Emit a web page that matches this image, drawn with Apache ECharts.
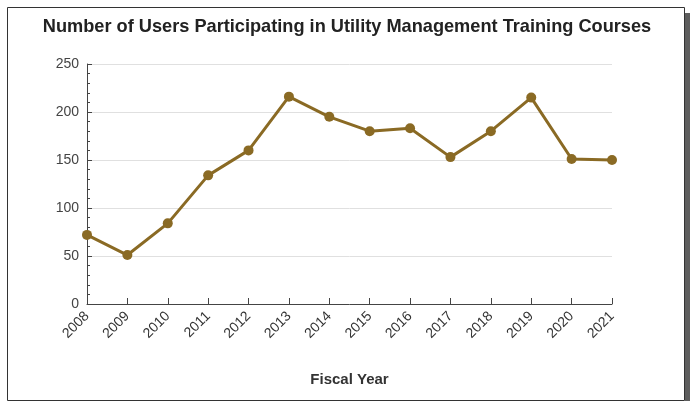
<!DOCTYPE html>
<html>
<head>
<meta charset="utf-8">
<script src="https://cdn.jsdelivr.net/npm/echarts@6/dist/echarts.min.js"></script>
<style>
	html, body { margin: 0; padding: 0; background: #fff; }
	#chart { width: 694px; height: 401px; }
</style>
</head>
<body>
<div id="chart"></div>
<script>
const years = ["2008", "2009", "2010", "2011", "2012", "2013", "2014", "2015", "2016", "2017", "2018", "2019", "2020", "2021"];
const users = [72, 51, 84, 134, 160, 216, 195, 180, 183, 153, 180, 215, 151, 150];

const LINE_COLOR = "#8a6a24";

const myChart = echarts.init(document.getElementById("chart"), null, { renderer: "canvas" });
const option = {
	animation: false,
	backgroundColor: "#fff",
	title: {
		text: "Number of Users Participating in Utility Management Training Courses",
		left: "center",
		top: 13,
		textStyle: { fontFamily: "Liberation Sans", fontSize: 18.2, fontWeight: "bold", color: "#222" },
	},
	grid: { left: 87, right: 82, top: 64, bottom: 97 },
	graphic: [
		// drop shadow on the right of the frame
		{ type: "rect", shape: { x: 685, y: 13, width: 5, height: 390 }, style: { fill: "#5e5e5e" }, z: 0 },
		{ type: "rect", shape: { x: 7.5, y: 7.5, width: 677, height: 393 }, style: { fill: null, stroke: "#333", lineWidth: 1 }, z: 0 },
	],
	xAxis: {
		type: "category",
		data: years,
		boundaryGap: false,
		name: "Fiscal Year",
		nameLocation: "middle",
		nameGap: 68,
		nameTextStyle: { fontFamily: "Liberation Sans", fontSize: 15, fontWeight: "bold", color: "#333" },
		axisLine: { lineStyle: { color: "#444", width: 1 } },
		axisTick: { alignWithLabel: true, inside: true, length: 6, lineStyle: { color: "#444" } },
		axisLabel: { rotate: 45, fontFamily: "Liberation Sans", fontSize: 14, color: "#333", margin: 10 },
		splitLine: { show: false },
	},
	yAxis: {
		type: "value",
		min: 0,
		max: 250,
		interval: 50,
		axisLine: { show: true, lineStyle: { color: "#444", width: 1 } },
		axisTick: { show: true, inside: true, length: 5, lineStyle: { color: "#444" } },
		minorTick: { show: true, splitNumber: 5, length: 3, lineStyle: { color: "#444" } },
		axisLabel: { fontFamily: "Liberation Sans", fontSize: 14, color: "#444", margin: 8 },
		splitLine: { lineStyle: { color: "#e0e0e0", width: 1 } },
	},
	series: [
		{
			type: "line",
			data: users,
			symbol: "circle",
			symbolSize: 10,
			lineStyle: { color: LINE_COLOR, width: 3 },
			itemStyle: { color: LINE_COLOR },
		},
	],
};
myChart.setOption(option);
</script>
</body>
</html>
